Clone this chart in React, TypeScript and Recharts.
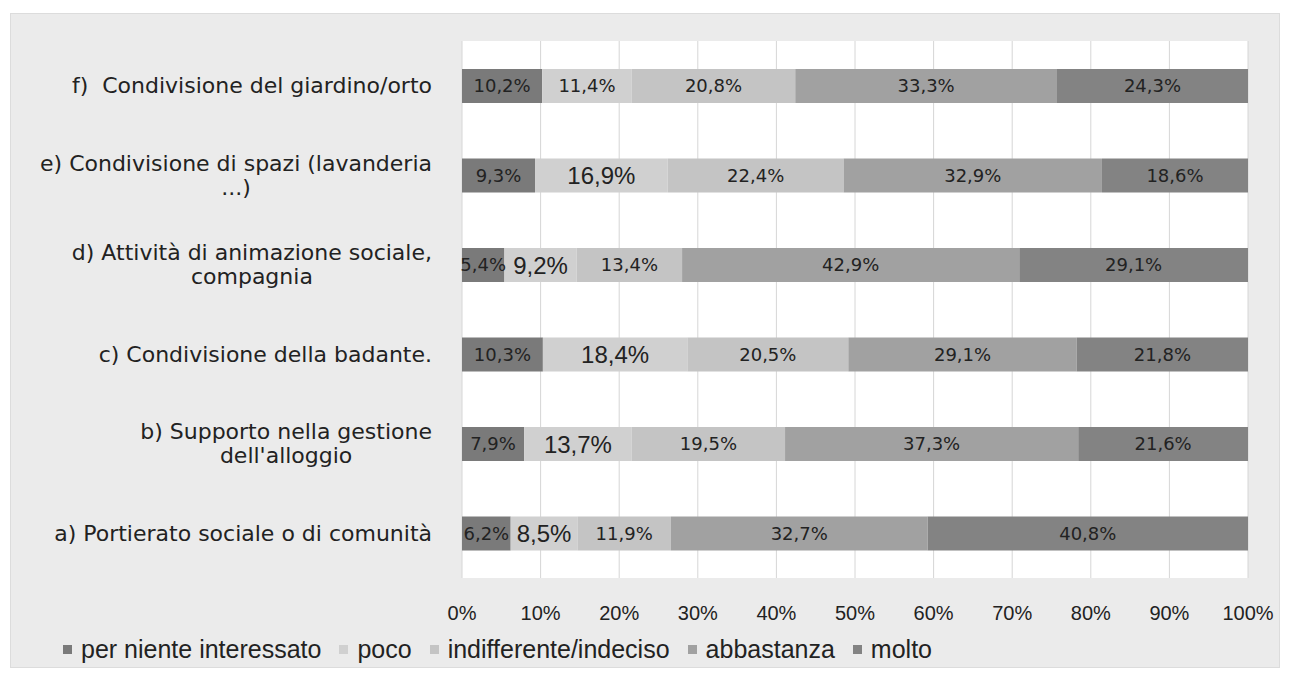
import React from "react";
import { Bar, BarChart, CartesianGrid, LabelList, Legend, XAxis, YAxis } from "recharts";

const categories = [
  "f)  Condivisione del giardino/orto",
  "e) Condivisione di spazi (lavanderia\n...)",
  "d) Attività di animazione sociale,\ncompagnia",
  "c) Condivisione della badante.",
  "b) Supporto nella gestione\ndell'alloggio",
  "a) Portierato sociale o di comunità",
];

const perNiente = [10.2, 9.3, 5.4, 10.3, 7.9, 6.2];
const poco = [11.4, 16.9, 9.2, 18.4, 13.7, 8.5];
const indifferente = [20.8, 22.4, 13.4, 20.5, 19.5, 11.9];
const abbastanza = [33.3, 32.9, 42.9, 29.1, 37.3, 32.7];
const molto = [24.3, 18.6, 29.1, 21.8, 21.6, 40.8];

const seriesNames = ["per niente interessato", "poco", "indifferente/indeciso", "abbastanza", "molto"];
const seriesKeys = ["perNiente", "poco", "indifferente", "abbastanza", "molto"];
const colors = ["#7a7a7a", "#d0d0d0", "#c4c4c4", "#a1a1a1", "#838383"];
const xTicks = [0, 0.1, 0.2, 0.3, 0.4, 0.5, 0.6, 0.7, 0.8, 0.9, 1];

const data = categories.map((name, i) => ({
  name,
  perNiente: perNiente[i],
  poco: poco[i],
  indifferente: indifferente[i],
  abbastanza: abbastanza[i],
  molto: molto[i],
}));

const LABEL_FONT = "22px 'DejaVu Sans'";
const TEXT = "#222222";

let ctx: CanvasRenderingContext2D | null = null;
const measure = (t: string, font: string) => {
  if (!ctx) ctx = document.createElement("canvas").getContext("2d");
  if (!ctx) return t.length * 11;
  ctx.font = font;
  return ctx.measureText(t).width;
};

function CategoryTick(props: any) {
  const { x, y, payload } = props;
  const lines = String(payload.value).split("\n");
  const lh = 24;
  const y0 = y - ((lines.length - 1) * lh) / 2;
  const w = measure(lines[0], LABEL_FONT);
  return (
    <g>
      {lines.map((l, i) => (
        <text
          key={i}
          x={i === 0 ? x : x - w / 2}
          y={y0 + i * lh}
          dy="0.35em"
          textAnchor={i === 0 ? "end" : "middle"}
          fill={TEXT}
          style={{ font: LABEL_FONT, whiteSpace: "pre" }}
        >
          {l}
        </text>
      ))}
    </g>
  );
}

const fmt = (v: number) => v.toFixed(1).replace(".", ",") + "%";

const makeLabel = (big: boolean) => (props: any) => {
  const { x, y, width, height, value, index } = props;
  const large = big && index !== 0;
  return (
    <text
      x={x + width / 2}
      y={y + height / 2}
      dy="0.36em"
      textAnchor="middle"
      fill={TEXT}
      style={{
        fontFamily: large ? "'Liberation Sans'" : "'DejaVu Sans'",
        fontSize: large ? 24 : 18,
      }}
    >
      {fmt(Number(value))}
    </text>
  );
};

const renderLegend = () => (
  <div
    style={{
      display: "flex",
      alignItems: "center",
      fontFamily: "'Liberation Sans', Arial, sans-serif",
      fontSize: 25,
      color: TEXT,
      whiteSpace: "nowrap",
    }}
  >
    {seriesNames.map((n, i) => (
      <span key={n} style={{ display: "flex", alignItems: "center", marginRight: 18 }}>
        <span style={{ width: 9, height: 9, background: colors[i], marginRight: 9 }} />
        {n}
      </span>
    ))}
  </div>
);

export default function App() {
  return (
    <div style={{ position: "absolute", left: 0, top: 0, width: 1290, height: 683, background: "#ffffff" }}>
      <div
        style={{
          position: "absolute",
          left: 10,
          top: 13,
          width: 1270,
          height: 655,
          background: "#ebebeb",
          boxSizing: "border-box",
          border: "1px solid #dcdcdc",
        }}
      />
      <div style={{ position: "absolute", left: 0, top: 0 }}>
        <BarChart
          width={1290}
          height={683}
          data={data}
          layout="vertical"
          stackOffset="expand"
          barSize={34}
          margin={{ top: 41, right: 42, left: 0, bottom: 55 }}
        >
          <CartesianGrid horizontal={false} stroke="#d6d6d6" fill="#ffffff" />
          <XAxis
            type="number"
            domain={[0, 1]}
            ticks={xTicks}
            tickFormatter={(v: number) => `${Math.round(v * 100)}%`}
            axisLine={false}
            tickLine={false}
            tickMargin={22}
            height={50}
            interval={0}
            tick={{ fill: TEXT, fontSize: 20, fontFamily: "'Liberation Sans', Arial, sans-serif" }}
          />
          <YAxis
            type="category"
            dataKey="name"
            width={462}
            axisLine={false}
            tickLine={false}
            tickMargin={24}
            interval={0}
            tick={<CategoryTick />}
          />
          <Legend
            verticalAlign="middle"
            align="center"
            layout="horizontal"
            wrapperStyle={{ top: 635, left: 63, width: "auto" }}
            content={renderLegend}
          />
          {seriesKeys.map((k, i) => (
            <Bar
              key={k}
              dataKey={k}
              name={seriesNames[i]}
              stackId="s"
              fill={colors[i]}
              isAnimationActive={false}
            >
              <LabelList dataKey={k} content={makeLabel(k === "poco")} />
            </Bar>
          ))}
        </BarChart>
      </div>
    </div>
  );
}
